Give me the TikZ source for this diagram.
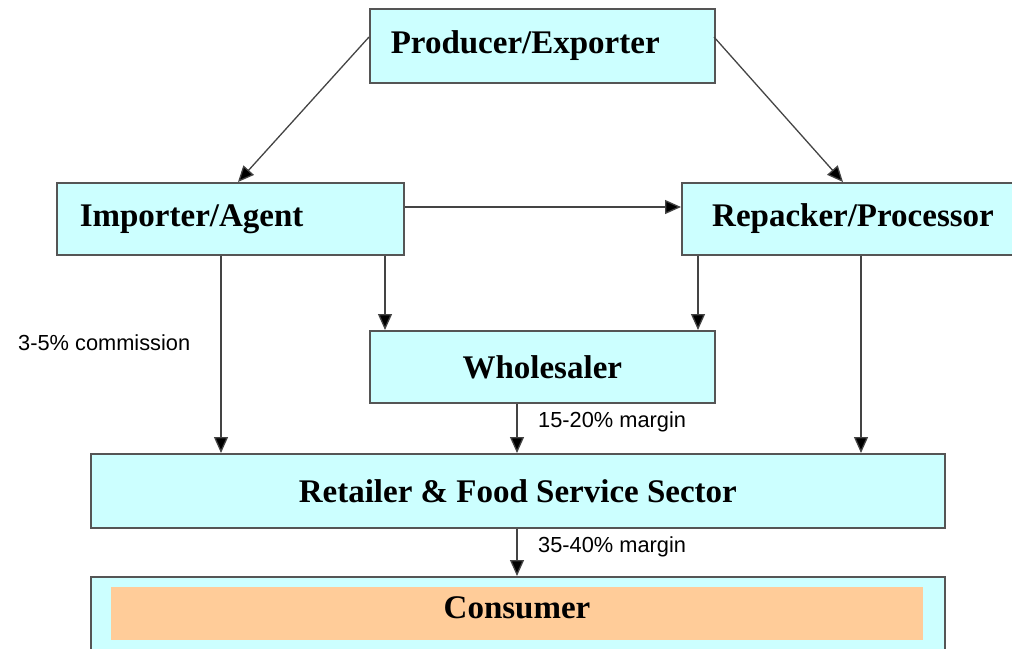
\documentclass[tikz,border=0pt]{standalone}
\usepackage{fontspec}
\setmainfont{Liberation Serif}
\setsansfont{Liberation Sans}
\usetikzlibrary{arrows.meta}
\definecolor{boxfill}{HTML}{CCFFFF}
\definecolor{boxline}{HTML}{555555}
\definecolor{flowline}{HTML}{444444}
\definecolor{consfill}{HTML}{FFCC99}
\begin{document}
\begin{tikzpicture}[x=1pt,y=-1pt,
  box/.style={draw=boxline, line width=1.6pt, fill=boxfill, inner sep=0pt,
    font=\fontsize{33}{36}\selectfont\bfseries},
  flow/.style={draw=flowline, line width=1.3pt, -{Triangle[length=16pt,width=14pt,fill=black]}},
  lbl/.style={font=\sffamily\fontsize{21.8}{24}\selectfont, inner sep=0pt, anchor=west}]
\useasboundingbox (0,0) rectangle (1012,648);
\node[box, anchor=north west, minimum width=345pt, minimum height=74pt,
  text width=303pt, align=left] (prod) at (369,8) {Producer/Exporter};
\node[box, anchor=north west, minimum width=347pt, minimum height=72pt,
  text width=301pt, align=left] (imp) at (56,182) {Importer/Agent};
\node[box, anchor=north west, minimum width=331pt, minimum height=72pt,
  text width=293pt, align=right] (rep) at (681,182) {Repacker/Processor};
\node[box, anchor=north west, minimum width=345pt, minimum height=72pt] (whole) at (369,330) {Wholesaler};
\node[box, anchor=north west, minimum width=854pt, minimum height=74pt] (ret) at (90,453) {Retailer \& Food Service Sector};
\node[box, anchor=north west, minimum width=854pt, minimum height=90pt] (consout) at (90,576) {};
\node[fill=consfill, anchor=north west, minimum width=812pt, minimum height=53pt, inner sep=0pt] (consin) at (111,587) {};
\node[font=\fontsize{33}{36}\selectfont\bfseries, inner sep=0pt] (cons) at (517,608) {Consumer};
% connectors
\coordinate (p1) at (369,37);
\coordinate (p2) at (714,37);
\draw[flow] (p1) -- (imp.north -| 238,0);
\draw[flow] (p2) -- (rep.north -| 843,0);
\draw[flow] (imp.east |- 0,207) -- (rep.west |- 0,207);
\draw[flow] (imp.south -| 221,0) -- (ret.north -| 221,0);
\draw[flow] (imp.south -| 385,0) -- (whole.north -| 385,0);
\draw[flow] (rep.south -| 698,0) -- (whole.north -| 698,0);
\draw[flow] (rep.south -| 861,0) -- (ret.north -| 861,0);
\draw[flow] (whole.south -| 517,0) -- (ret.north -| 517,0);
\draw[flow] (ret.south -| 517,0) -- (consout.north -| 517,0);
% labels
\node[lbl] (l1) at (18,343) {3-5\% commission};
\node[lbl] (l2) at (538,422) {15-20\% margin};
\node[lbl] (l3) at (538,547) {35-40\% margin};
\end{tikzpicture}
\end{document}
